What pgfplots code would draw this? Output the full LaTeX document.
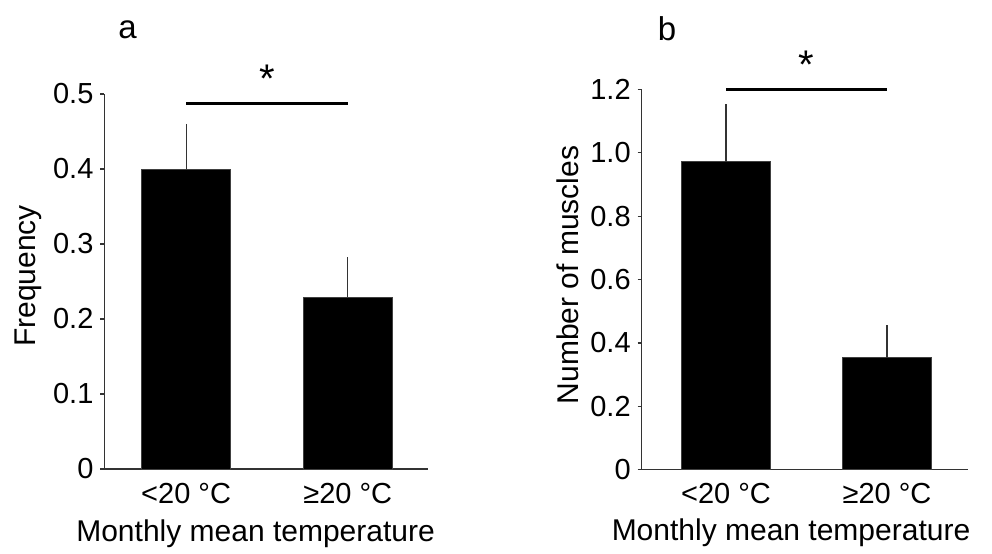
\documentclass[border=0pt]{standalone}
\usepackage{fontspec}
\setmainfont{Liberation Sans}
\usepackage{pgfplots}
\usepackage{pgfplotstable}
\pgfplotsset{compat=1.18}

% mean and upper error for each temperature class
\pgfplotstableread{
x y e
0 0.400 0.057
1 0.229 0.050
}\freqdata
\pgfplotstableread{
x y e
0 0.972 0.174
1 0.354 0.095
}\muscledata

\pgfplotsset{
  panel/.style={
    scale only axis, anchor=south west, clip=false,
    axis x line=bottom, axis y line=left,
    axis line style={black!80,line width=0.6pt,-},
    ymin=0,
    xtick={0,1}, xticklabels={<20 °C,≥20 °C},
    xtick style={draw=none},
    ytick style={black!80,line width=0.6pt},
    tick align=outside, major tick length=2pt,
    tick label style={font=\fontsize{14.5}{17}\selectfont},
    xticklabel style={anchor=base,yshift=-15pt},
    label style={font=\fontsize{15}{18}\selectfont},
    title style={font=\fontsize{16.5}{19}\selectfont,anchor=base},
    /pgf/number format/assume math mode=true,
  },
  bars/.style={
    ybar, bar width=0.55, bar shift=0pt,
    fill=black, draw=black!75, line width=0.4pt,
    error bars/.cd, y dir=plus, y explicit,
    error mark=-, error mark options={black!80,line width=0.6pt,mark size=1.2pt},
    error bar style={black!80,line width=0.6pt},
  },
}

\begin{document}
\begin{tikzpicture}
\path (0,0) rectangle (496pt,-274.5pt);

\begin{axis}[panel,
  at={(52.25pt,-234.5pt)}, width=161.75pt, height=187.5pt,
  xmin=-0.505, xmax=1.496, ymax=0.5,
  ytick={0,0.1,0.2,0.3,0.4,0.5}, yticklabels={0,0.1,0.2,0.3,0.4,0.5},
  ylabel={Frequency},
  ylabel style={at={(axis description cs:-0.2365,0.515)},anchor=center},
  xlabel={Monthly mean temperature},
  xlabel style={at={(axis description cs:0.467,0)},anchor=base,yshift=-36pt},
  title={a}, title style={at={(axis description cs:0.071,1.116)}},
]
\addplot[bars] table[x=x,y=y,y error=e] {\freqdata};
\addplot[black,line width=1.35pt] coordinates {(0,0.4876) (1,0.4876)};
\node[font=\fontsize{20}{22}\selectfont] at (axis cs:0.5,0.521) {*};
\end{axis}

\begin{axis}[panel,
  at={(320.85pt,-234.85pt)}, width=163pt, height=190.15pt,
  xmin=-0.524, xmax=1.501, ymax=1.2,
  ytick={0,0.2,0.4,0.6,0.8,1.0,1.2}, yticklabels={0,0.2,0.4,0.6,0.8,1.0,1.2},
  ylabel={Number of muscles},
  ylabel style={at={(axis description cs:-0.227,0.512)},anchor=center},
  xlabel={Monthly mean temperature},
  xlabel style={at={(axis description cs:0.458,0)},anchor=base,yshift=-35.6pt},
  title={b}, title style={at={(axis description cs:0.078,1.098)}},
]
\addplot[bars] table[x=x,y=y,y error=e] {\muscledata};
\addplot[black,line width=1.35pt] coordinates {(0,1.199) (1,1.199)};
\node[font=\fontsize{20}{22}\selectfont] at (axis cs:0.5,1.279) {*};
\end{axis}
\end{tikzpicture}
\end{document}
